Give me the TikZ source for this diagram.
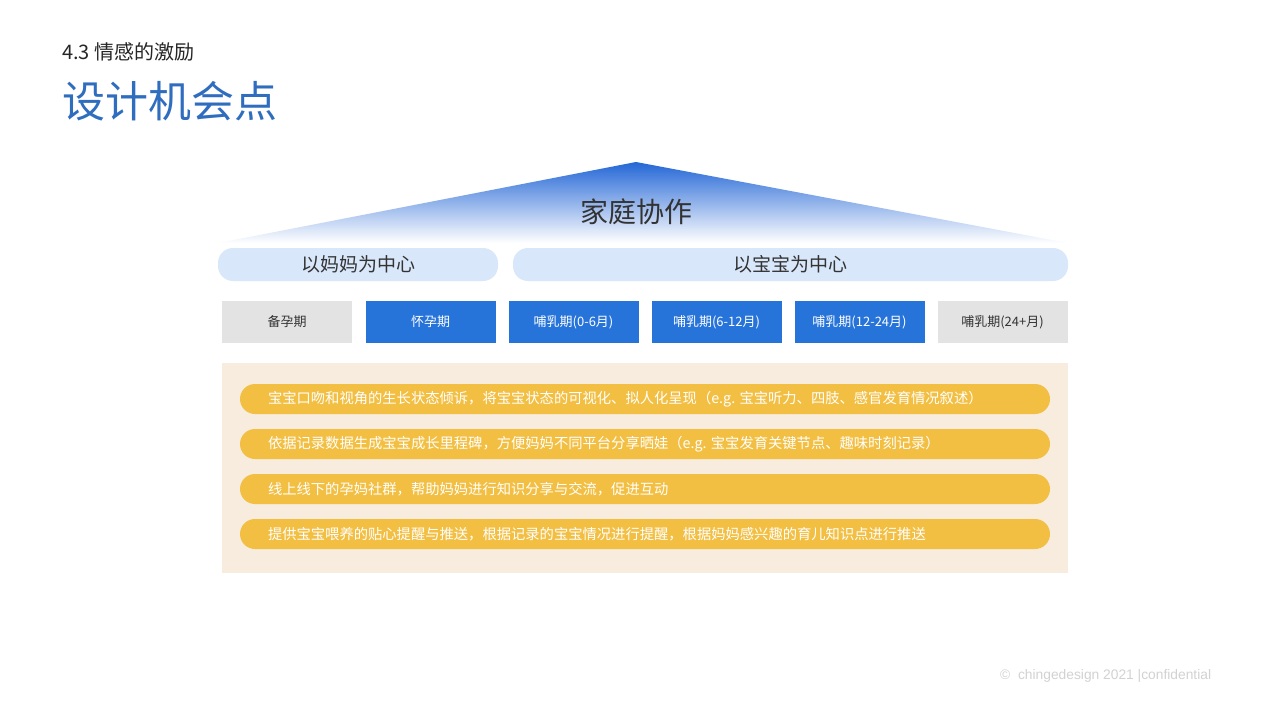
\documentclass[tikz,border=0pt]{standalone}
\usepackage{fontspec}
\setmainfont{Noto Sans CJK SC}
\newfontfamily\latinfont{Liberation Sans}
\definecolor{titleblue}{HTML}{2F6DBF}
\definecolor{triblue}{HTML}{2467D6}
\definecolor{lightblue}{HTML}{D8E7FA}
\definecolor{boxblue}{HTML}{2673DA}
\definecolor{boxgray}{HTML}{E3E3E3}
\definecolor{beige}{HTML}{F7ECDD}
\definecolor{pillyellow}{HTML}{F2BF42}
\definecolor{darktext}{HTML}{333333}
\definecolor{foottext}{HTML}{D2D2D2}
\begin{document}
\begin{tikzpicture}[x=1pt,y=-1pt,
  bandbox/.style={fill=lightblue, draw=none, rounded corners=15pt, minimum height=33pt, inner sep=0pt, text=darktext, font=\fontsize{19}{22}\selectfont},
  stagebox/.style={draw=none, minimum width=130pt, minimum height=42pt, inner sep=0pt, font=\fontsize{13}{15}\selectfont},
  bluestage/.style={stagebox, fill=boxblue, text=white},
  graystage/.style={stagebox, fill=boxgray, text=darktext},
  pill/.style={fill=pillyellow, draw=none, rounded corners=15pt, minimum width=810pt, minimum height=30pt, inner sep=0pt},
  pilltext/.style={anchor=west, inner sep=0pt, text=white, font=\fontsize{14.3}{16}\selectfont}
]
\useasboundingbox (0,0) rectangle (1280,720);
\fill[white] (0,0) rectangle (1280,720);

% titles
\node[anchor=west, inner sep=0pt, text=black!85, font=\fontsize{20}{24}\selectfont] (sub) at (62,52) {4.3 情感的激励};
\node[anchor=west, inner sep=0pt, text=titleblue, font=\fontsize{43}{50}\selectfont] (title) at (62,101) {设计机会点};

% roof triangle
\shade[top color=triblue, bottom color=white] (636,162) -- (1068,243) -- (218,243) -- cycle;
\node[inner sep=0pt, text=darktext, font=\fontsize{28}{32}\selectfont] (roof) at (636,212) {家庭协作};

% bands
\node[bandbox, minimum width=280pt] (mom) at (358,264.5) {以妈妈为中心};
\node[bandbox, minimum width=555pt] (baby) at (790.5,264.5) {以宝宝为中心};

% stages
\node[graystage] (s1) at (287,322) {备孕期};
\node[bluestage] (s2) at (430.5,322) {怀孕期};
\node[bluestage] (s3) at (573.5,322) {哺乳期(0-6月)};
\node[bluestage] (s4) at (716.5,322) {哺乳期(6-12月)};
\node[bluestage] (s5) at (859.5,322) {哺乳期(12-24月)};
\node[graystage] (s6) at (1002.5,322) {哺乳期(24+月)};

% panel
\fill[beige] (222,363) rectangle (1068,573);

\node[pill] (p1) at (645,399) {};
\node[pill] (p2) at (645,444) {};
\node[pill] (p3) at (645,489) {};
\node[pill] (p4) at (645,534) {};
\node[pilltext] (t1) at ([xshift=28pt]p1.west) {宝宝口吻和视角的生长状态倾诉，将宝宝状态的可视化、拟人化呈现（e.g. 宝宝听力、四肢、感官发育情况叙述）};
\node[pilltext] (t2) at ([xshift=28pt]p2.west) {依据记录数据生成宝宝成长里程碑，方便妈妈不同平台分享晒娃（e.g. 宝宝发育关键节点、趣味时刻记录）};
\node[pilltext] (t3) at ([xshift=28pt]p3.west) {线上线下的孕妈社群，帮助妈妈进行知识分享与交流，促进互动};
\node[pilltext] (t4) at ([xshift=28pt]p4.west) {提供宝宝喂养的贴心提醒与推送，根据记录的宝宝情况进行提醒，根据妈妈感兴趣的育儿知识点进行推送};

% footer
\node[anchor=west, inner sep=0pt, text=foottext, font=\latinfont\fontsize{13.8}{16}\selectfont] (foot) at (1000,676) {©\ \ chingedesign 2021 \textbar confidential};
\end{tikzpicture}
\end{document}
